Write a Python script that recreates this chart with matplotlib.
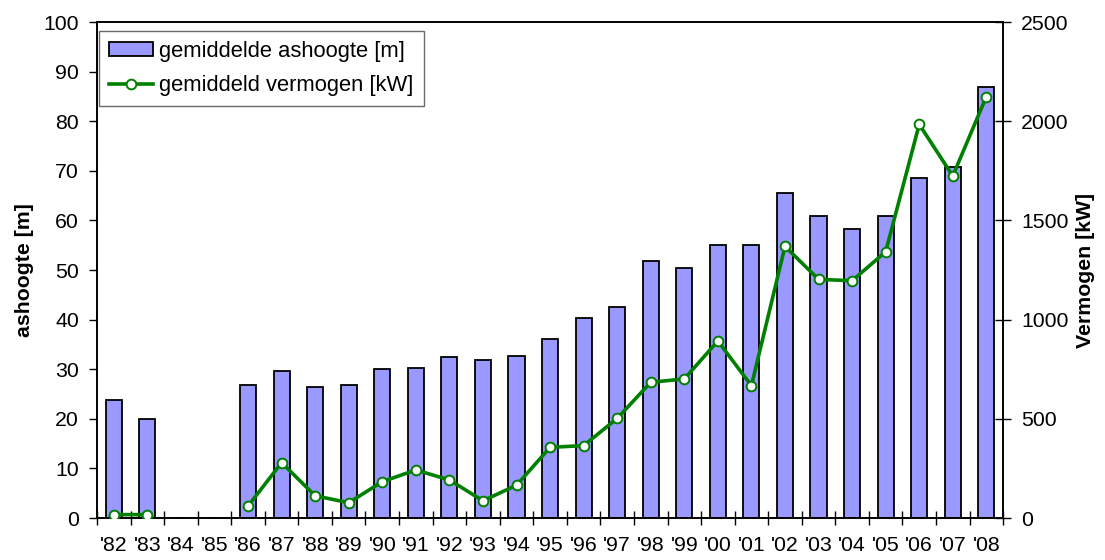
import numpy as np
import matplotlib
matplotlib.use('Agg')
import matplotlib.pyplot as plt
from matplotlib.ticker import MultipleLocator, FixedLocator

plt.rcParams['font.family'] = ['Liberation Sans', 'DejaVu Sans']

years = ["'82", "'83", "'84", "'85", "'86", "'87", "'88", "'89", "'90", "'91",
         "'92", "'93", "'94", "'95", "'96", "'97", "'98", "'99", "'00", "'01",
         "'02", "'03", "'04", "'05", "'06", "'07", "'08"]

# gemiddelde ashoogte [m]
ashoogte = [23.8, 20.0, np.nan, np.nan, 26.9, 29.6, 26.5, 26.9, 30.0, 30.3,
            32.4, 31.8, 32.7, 36.0, 40.4, 42.5, 51.8, 50.5, 55.0, 55.0,
            65.5, 60.9, 58.3, 60.9, 68.5, 70.8, 86.8]

# gemiddeld vermogen [kW]
vermogen = [17, 17, np.nan, np.nan, 60, 279, 112, 77, 183, 242,
            192, 87, 165, 356, 365, 502, 684, 701, 892, 667,
            1369, 1203, 1196, 1342, 1984, 1724, 2124]

x = np.arange(len(years))
fs = 15.3

fig = plt.figure(figsize=(11.05, 5.6), dpi=100)
ax = fig.add_axes([0.0878, 0.075, 0.82, 0.8857])
ax2 = ax.twinx()

bars = ax.bar(x, np.nan_to_num(ashoogte), width=0.48, color='#9999FF',
              edgecolor='black', linewidth=1.3, label='gemiddelde ashoogte [m]',
              zorder=2)
line, = ax2.plot(x, vermogen, color='#008000', linewidth=2.6, marker='o',
                 markersize=7, markerfacecolor='white', markeredgecolor='#008000',
                 markeredgewidth=1.4, label='gemiddeld vermogen [kW]', zorder=3)

ax.set_xlim(-0.5, len(years) - 0.5)
ax.set_ylim(0, 100)
ax2.set_ylim(0, 2500)

ax.yaxis.set_major_locator(MultipleLocator(10))
ax2.yaxis.set_major_locator(MultipleLocator(500))

ax.set_xticks(x)
ax.set_xticklabels(years, fontsize=fs)
ax.tick_params(axis='x', which='major', length=0, pad=13)
ax.xaxis.set_minor_locator(FixedLocator(np.arange(-0.5, len(years), 1.0)))
ax.tick_params(axis='x', which='minor', direction='inout', length=10, width=1)

ax.tick_params(axis='y', labelsize=fs, direction='out', length=6, width=1, pad=7)
ax2.tick_params(axis='y', labelsize=fs, direction='inout', length=12, width=1, pad=7)

ax.set_ylabel('ashoogte [m]', fontsize=fs, fontweight='bold', labelpad=7)
ax2.set_ylabel('Vermogen [kW]', fontsize=fs, fontweight='bold', labelpad=5)

for a in (ax, ax2):
    for s in a.spines.values():
        s.set_linewidth(1.2)

ax.set_zorder(ax2.get_zorder() - 1)
ax2.patch.set_visible(False)

leg = fig.legend(handles=[bars, line], loc='upper left',
                 bbox_to_anchor=(0.0896, 0.9446), borderaxespad=0, fontsize=15.8,
                 frameon=True, fancybox=False, edgecolor='#444444',
                 handlelength=2.0, handleheight=0.6, handletextpad=0.3,
                 borderpad=0.45, labelspacing=0.6)
leg.get_frame().set_linewidth(1.0)

plt.savefig('out.png', dpi=100)
